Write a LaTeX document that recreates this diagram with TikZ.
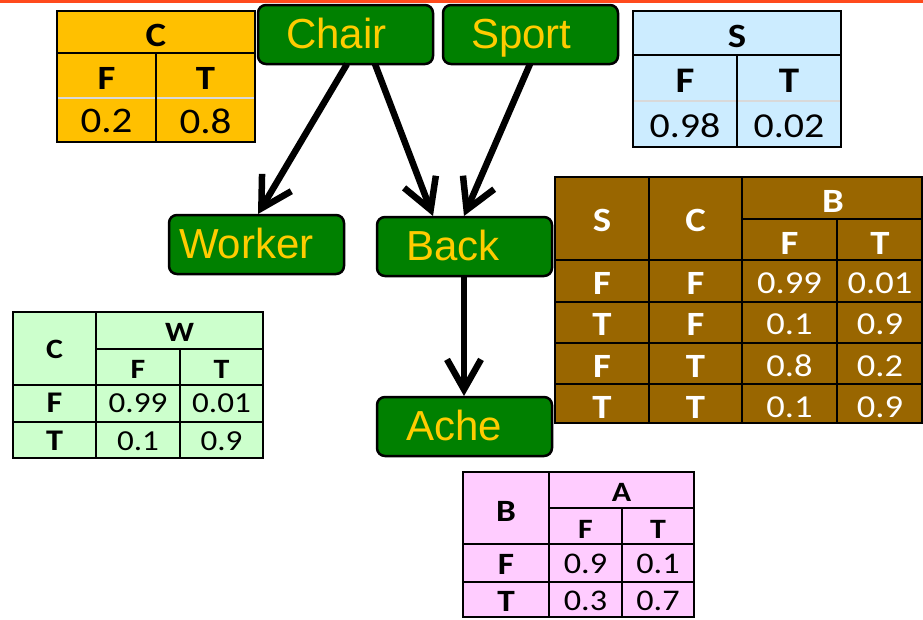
\documentclass[tikz,border=0pt]{standalone}
\usepackage{fontspec}
\usetikzlibrary{arrows.meta,calc}
\setmainfont{Liberation Sans}
\newfontfamily\calfont[FakeStretch=1.14]{Carlito}
\newcommand\fsz[1]{\fontsize{#1}{#1}\selectfont}

\definecolor{nodegreen}{HTML}{008000}
\definecolor{nodetext}{HTML}{FFCC00}
\definecolor{cptC}{HTML}{FFC000}
\definecolor{cptS}{HTML}{CCECFF}
\definecolor{cptB}{HTML}{996600}
\definecolor{cptW}{HTML}{CCFFCC}
\definecolor{cptA}{HTML}{FFCCFF}
\definecolor{topline}{HTML}{FF4A1C}
\definecolor{softrule}{HTML}{D9D9D9}

\tikzset{
  var/.style={draw=black, line width=2.5pt, fill=nodegreen, rounded corners=8pt,
    inner sep=0pt, outer sep=0pt, minimum height=59pt, text height=30pt, text depth=3pt,
    text=nodetext, font=\fsz{42}, anchor=north west},
  edge/.style={line width=6.5pt, -{Straight Barb[length=30pt,width=34pt]}},
  hd/.style={inner sep=0pt, font=\calfont\bfseries\fsz{#1}},
  val/.style={inner sep=0pt, font=\calfont\fsz{#1}},
  grid/.style={line width=2pt},
  frame/.style={line width=2.8pt},
}

\begin{document}
\begin{tikzpicture}[x=1pt,y=-1pt]
\useasboundingbox (0,0) rectangle (923,619);
\fill[white] (0,0) rectangle (923,619);
\fill[topline] (0,0) rectangle (923,2.5);

% network variables
\node[var] (chair)  at (258,5)   {\makebox[175pt][l]{\hspace{28pt}Chair}};
\node[var] (sport)  at (443,5)   {\makebox[175pt][l]{\hspace{28pt}Sport}};
\node[var] (worker) at (169,215) {\makebox[175pt][l]{\hspace{10pt}Worker}};
\node[var] (back)   at (377,217) {\makebox[175pt][l]{\hspace{29pt}Back}};
\node[var] (ache)   at (377,397) {\makebox[175pt][l]{\hspace{29pt}Ache}};

% dependencies
\draw[edge] ($(chair.south west)+(89,0)$)  -- ($(worker.north west)+(89,-1)$);
\draw[edge] ($(chair.south west)+(117,0)$) -- ($(back.north west)+(56,-1)$);
\draw[edge] ($(sport.south west)+(87,0)$)  -- ($(back.north west)+(87,-1)$);
\draw[edge] ($(back.south west)+(87,0)$)   -- ($(ache.north west)+(87,-1)$);

% P(C)
\fill[cptC] (57,11) rectangle (255,142);
\draw[softrule, line width=1.5pt] (57,98) -- (255,98);
\draw[grid] (57,53) -- (255,53) (156,53) -- (156,142);
\draw[frame] (57,11) rectangle (255,142);
\node[hd=34] (cH) at (156,35) {C};
\node[hd=34] (cF) at (106.5,78) {F};
\node[hd=34] (cT) at (205.5,78) {T};
\node[val=36] (cvF) at (106.5,121) {0.2};
\node[val=36] (cvT) at (205.5,121) {0.8};

% P(S)
\fill[cptS] (633,11) rectangle (841,147);
\draw[softrule, line width=1.5pt] (633,101) -- (841,101);
\draw[grid] (633,55) -- (841,55) (737,55) -- (737,147);
\draw[frame] (633,11) rectangle (841,147);
\node[hd=34] (sH) at (737,36) {S};
\node[hd=36] (sF) at (685,81) {F};
\node[hd=36] (sT) at (789,81) {T};
\node[val=35] (svF) at (685,126) {0.98};
\node[val=35] (svT) at (789,126) {0.02};

% P(B | S, C)
\fill[cptB] (555,177) rectangle (922,423);
\draw[grid] (649,177) -- (649,423) (742,177) -- (742,423) (837,219) -- (837,423)
  (742,219) -- (922,219) (555,260) -- (922,260) (555,302) -- (922,302)
  (555,343) -- (922,343) (555,384) -- (922,384);
\draw[frame] (555,177) rectangle (922,423);
\begin{scope}[every node/.append style={text=white}]
\node[hd=34] (bS) at (602,220) {S};
\node[hd=34] (bC) at (695.5,220) {C};
\node[hd=34] (bH) at (833,201) {B};
\node[hd=34] (bF) at (789.5,243) {F};
\node[hd=34] (bT) at (880,243) {T};
\node[hd=34] (b1s) at (602,283) {F};
\node[hd=34] (b1c) at (695.5,283) {F};
\node[val=32] (b1f) at (789.5,283) {0.99};
\node[val=32] (b1t) at (880,283) {0.01};
\node[hd=34] (b2s) at (602,324.5) {T};
\node[hd=34] (b2c) at (695.5,324.5) {F};
\node[val=32] (b2f) at (789.5,324.5) {0.1};
\node[val=32] (b2t) at (880,324.5) {0.9};
\node[hd=34] (b3s) at (602,366) {F};
\node[hd=34] (b3c) at (695.5,366) {T};
\node[val=32] (b3f) at (789.5,366) {0.8};
\node[val=32] (b3t) at (880,366) {0.2};
\node[hd=34] (b4s) at (602,407.5) {T};
\node[hd=34] (b4c) at (695.5,407.5) {T};
\node[val=32] (b4f) at (789.5,407.5) {0.1};
\node[val=32] (b4t) at (880,407.5) {0.9};
\end{scope}

% P(W | C)
\fill[cptW] (13,312) rectangle (263,458);
\draw[grid] (96,312) -- (96,458) (180,349) -- (180,458)
  (96,349) -- (263,349) (13,385) -- (263,385) (13,422) -- (263,422);
\draw[frame] (13,312) rectangle (263,458);
\node[hd=28] (wC) at (54.5,349) {C};
\node[hd=28] (wH) at (179.5,332.5) {W};
\node[hd=28] (wF) at (138,369.5) {F};
\node[hd=28] (wT) at (221.5,369.5) {T};
\node[hd=30] (w1c) at (54.5,403) {F};
\node[val=29] (w1f) at (138,403) {0.99};
\node[val=29] (w1t) at (221.5,403) {0.01};
\node[hd=30] (w2c) at (54.5,441) {T};
\node[val=29] (w2f) at (138,441) {0.1};
\node[val=29] (w2t) at (221.5,441) {0.9};

% P(A | B)
\fill[cptA] (463,472) rectangle (694,617);
\draw[grid] (549,472) -- (549,617) (622,508) -- (622,617)
  (549,508) -- (694,508) (463,544) -- (694,544) (463,582) -- (694,582);
\draw[frame] (463,472) rectangle (694,617);
\node[hd=31] (aB) at (506,511) {B};
\node[hd=28] (aH) at (621.5,492.5) {A};
\node[hd=28] (aF) at (585.5,529.5) {F};
\node[hd=28] (aT) at (658,529.5) {T};
\node[hd=31] (a1b) at (506,564) {F};
\node[val=30] (a1f) at (585.5,564) {0.9};
\node[val=30] (a1t) at (658,564) {0.1};
\node[hd=31] (a2b) at (506,601) {T};
\node[val=30] (a2f) at (585.5,601) {0.3};
\node[val=30] (a2t) at (658,601) {0.7};
\end{tikzpicture}
\end{document}
